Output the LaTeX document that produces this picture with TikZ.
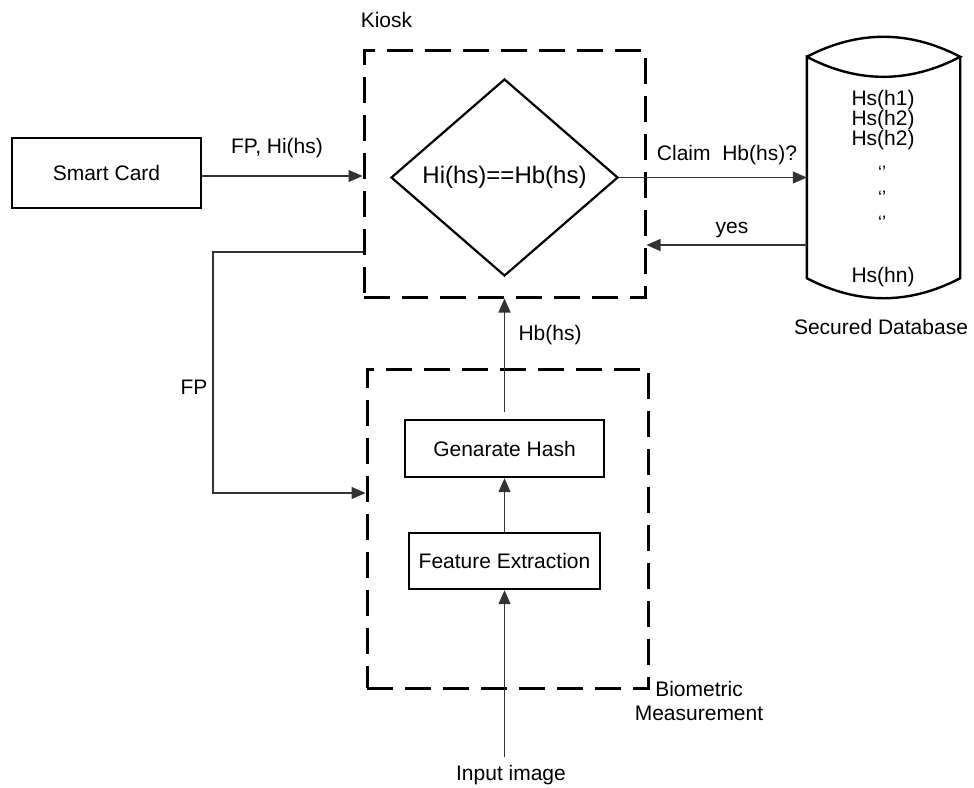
\documentclass[tikz,border=0pt]{standalone}
\usepackage{fontspec}
\setmainfont{Liberation Sans}
\usetikzlibrary{arrows.meta,shapes.geometric}

\tikzset{
  txt/.style={inner sep=0pt, font=\fontsize{21}{24}\selectfont},
  solidbox/.style={draw, rectangle, line width=2.4pt, inner sep=0pt,
                   font=\fontsize{21}{24}\selectfont},
  groupbox/.style={draw, rectangle, line width=3pt, inner sep=0pt,
                   dash pattern=on 26pt off 12pt},
  conn/.style={draw=black!80, line width=1.1pt},
  arr/.style={conn, -{Triangle[length=14pt,width=12pt]}},
  dbline/.style={line width=2.4pt},
  tick/.style={inner sep=0pt, font=\fontsize{18}{20}\selectfont}
}

\begin{document}
\begin{tikzpicture}[x=1pt, y=-1pt]
  \useasboundingbox (0,0) rectangle (974,787);
  \fill[white] (0,0) rectangle (974,787);

  % kiosk group with the comparison step
  \node[groupbox, minimum width=281pt, minimum height=247pt] (kiosk) at (504.5,173.5) {};
  \node[txt] (kiosklbl) at (386.5,20) {Kiosk};
  \node[draw, diamond, line width=2.2pt, inner sep=0pt,
        minimum width=227pt, minimum height=197pt,
        font=\fontsize{24}{26}\selectfont] (dia) at (504.5,177.5) {Hi(hs)==Hb(hs)};

  % smart card
  \node[solidbox, minimum width=189pt, minimum height=70pt] (sc) at (106.5,173) {Smart Card};
  \node[txt] (sclbl) at (277,148) {FP, Hi(hs)};

  % secured database cylinder
  \node[inner sep=0pt, minimum width=153pt, minimum height=221pt] (db) at (883.5,167.5) {};
  \draw[dbline] (db.north west) .. controls +(51,-26.7) and +(-51,-26.7) .. (db.north east)
                .. controls +(-51,26.7) and +(51,26.7) .. (db.north west)
                -- (db.south west)
                .. controls +(51,26.7) and +(-51,26.7) .. (db.south east)
                -- (db.north east);
  \node[txt] (h1) at (883,100) {Hs(h1)};
  \node[txt] (h2) at (883,120) {Hs(h2)};
  \node[txt] (h3) at (883,140) {Hs(h2)};
  \node[tick] (t1) at (882,172) {‘’};
  \node[tick] (t2) at (882,197) {‘’};
  \node[tick] (t3) at (882,222) {‘’};
  \node[txt] (hn) at (883,277) {Hs(hn)};
  \node[txt] (dblbl) at (881,327) {Secured Database};

  % biometric measurement group
  \node[groupbox, minimum width=281pt, minimum height=319pt] (bio) at (507.5,528.5) {};
  \node[txt, align=center] (biolbl) at (699,701) {Biometric\\Measurement};
  \node[solidbox, minimum width=199pt, minimum height=57pt] (gh) at (504.5,448.5) {Genarate Hash};
  \node[solidbox, minimum width=191pt, minimum height=56pt] (fe) at (504.5,561) {Feature Extraction};
  \node[txt] (inp) at (511,775) {Input image};

  % connectors
  \draw[arr] ([yshift=-3pt]sc.east) -- ([yshift=-3pt]sc.east -| kiosk.west);

  \draw[arr] (dia.east) -- (dia.east -| db.west);
  \node[txt] (claimlbl) at (727,155) {Claim~~Hb(hs)?};

  \coordinate (yesfrom) at (807,245);
  \draw[arr] (yesfrom) -- (yesfrom -| kiosk.east);
  \node[txt] (yeslbl) at (732,230) {yes};

  \coordinate (fpA) at (213,252);
  \coordinate (fpB) at (213,493);
  \draw[arr] (fpA -| kiosk.west) -- (fpA) -- (fpB) -- (fpB -| bio.west);
  \node[txt] (fplbl) at (194,387) {FP};

  \draw[arr] ([yshift=7pt]gh.north) -- (gh.north |- kiosk.south);
  \node[txt] (hblbl) at (550,335) {Hb(hs)};

  \draw[arr] (fe.north) -- (gh.south);

  \coordinate (src) at (505,757);
  \draw[arr] (fe.south |- src) -- (fe.south);
\end{tikzpicture}
\end{document}
